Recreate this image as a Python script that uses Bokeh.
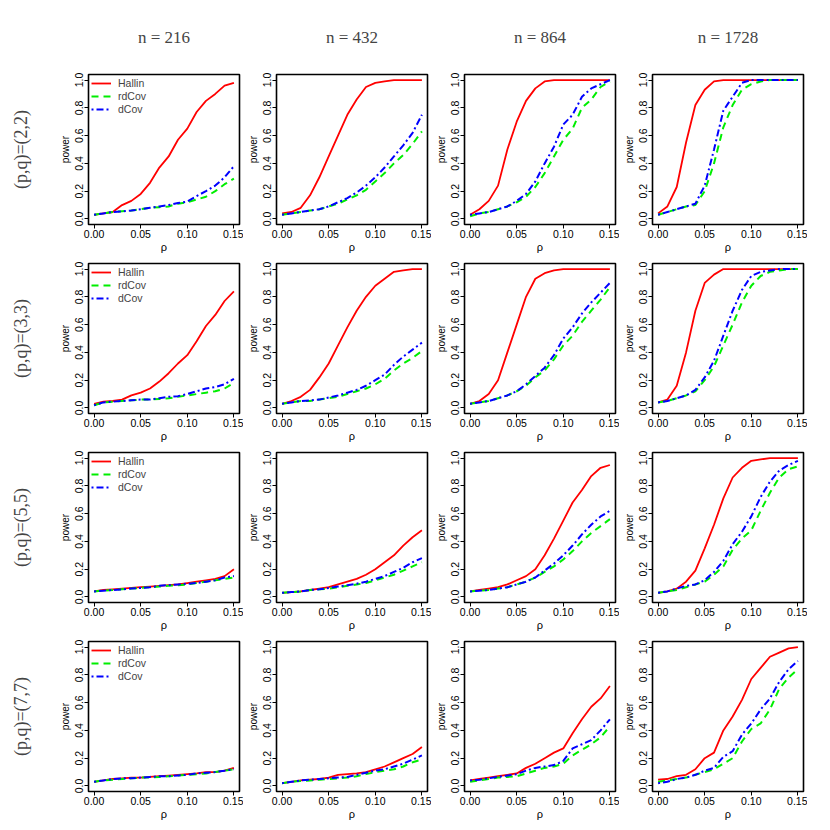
from bokeh.plotting import figure
from bokeh.layouts import column, row
from bokeh.models import (FixedTicker, Title, Legend, LegendItem, Range1d,
                          PrintfTickFormatter)
from bokeh.embed import file_html
from bokeh.resources import INLINE

# ---------------- data ----------------
rho = [0.00, 0.01, 0.02, 0.03, 0.04, 0.05, 0.06, 0.07, 0.08, 0.09, 0.10,
       0.11, 0.12, 0.13, 0.14, 0.15]

sample_sizes = ["216", "432", "864", "1728"]
dims = ["(2,2)", "(3,3)", "(5,5)", "(7,7)"]

x_ticks = [0.00, 0.05, 0.10, 0.15]
y_ticks = [0.0, 0.2, 0.4, 0.6, 0.8, 1.0]

# (p,q)=(2,2)
hallin_22_216 = [0.03, 0.04, 0.05, 0.10, 0.13, 0.18, 0.26, 0.37, 0.45, 0.57, 0.65, 0.77, 0.85, 0.90, 0.96, 0.98]
rdcov_22_216 = [0.03, 0.04, 0.05, 0.055, 0.06, 0.07, 0.08, 0.085, 0.09, 0.11, 0.12, 0.14, 0.16, 0.20, 0.25, 0.29]
dcov_22_216 = [0.03, 0.04, 0.05, 0.055, 0.06, 0.07, 0.08, 0.09, 0.10, 0.115, 0.125, 0.165, 0.20, 0.24, 0.30, 0.38]

hallin_22_432 = [0.04, 0.05, 0.08, 0.17, 0.30, 0.45, 0.60, 0.75, 0.86, 0.95, 0.98, 0.99, 1.0, 1.0, 1.0, 1.0]
rdcov_22_432 = [0.03, 0.04, 0.05, 0.06, 0.07, 0.09, 0.11, 0.14, 0.17, 0.21, 0.27, 0.33, 0.40, 0.46, 0.54, 0.63]
dcov_22_432 = [0.03, 0.04, 0.05, 0.06, 0.07, 0.09, 0.12, 0.15, 0.19, 0.24, 0.30, 0.37, 0.45, 0.53, 0.62, 0.75]

hallin_22_864 = [0.03, 0.07, 0.13, 0.24, 0.50, 0.70, 0.85, 0.94, 0.99, 1.0, 1.0, 1.0, 1.0, 1.0, 1.0, 1.0]
rdcov_22_864 = [0.02, 0.04, 0.05, 0.07, 0.09, 0.12, 0.16, 0.23, 0.33, 0.45, 0.57, 0.65, 0.80, 0.86, 0.95, 0.99]
dcov_22_864 = [0.03, 0.04, 0.05, 0.07, 0.09, 0.13, 0.18, 0.27, 0.40, 0.52, 0.68, 0.75, 0.88, 0.94, 0.97, 1.0]

hallin_22_1728 = [0.04, 0.09, 0.23, 0.55, 0.82, 0.93, 0.99, 1.0, 1.0, 1.0, 1.0, 1.0, 1.0, 1.0, 1.0, 1.0]
rdcov_22_1728 = [0.03, 0.05, 0.07, 0.09, 0.10, 0.20, 0.40, 0.66, 0.82, 0.93, 0.97, 0.99, 1.0, 1.0, 1.0, 1.0]
dcov_22_1728 = [0.03, 0.05, 0.07, 0.09, 0.11, 0.24, 0.50, 0.78, 0.88, 0.98, 1.0, 1.0, 1.0, 1.0, 1.0, 1.0]

# (p,q)=(3,3)
hallin_33_216 = [0.03, 0.045, 0.05, 0.06, 0.09, 0.11, 0.14, 0.19, 0.25, 0.32, 0.38, 0.48, 0.59, 0.67, 0.77, 0.84]
rdcov_33_216 = [0.02, 0.04, 0.045, 0.05, 0.055, 0.06, 0.06, 0.065, 0.07, 0.08, 0.09, 0.10, 0.11, 0.12, 0.14, 0.18]
dcov_33_216 = [0.02, 0.04, 0.045, 0.05, 0.055, 0.06, 0.06, 0.07, 0.08, 0.085, 0.10, 0.12, 0.14, 0.15, 0.17, 0.21]

hallin_33_432 = [0.03, 0.05, 0.08, 0.13, 0.22, 0.32, 0.45, 0.58, 0.70, 0.80, 0.88, 0.93, 0.98, 0.99, 1.0, 1.0]
rdcov_33_432 = [0.03, 0.04, 0.05, 0.05, 0.06, 0.07, 0.08, 0.10, 0.12, 0.14, 0.17, 0.21, 0.27, 0.32, 0.36, 0.41]
dcov_33_432 = [0.03, 0.04, 0.05, 0.055, 0.06, 0.075, 0.09, 0.11, 0.13, 0.16, 0.20, 0.24, 0.31, 0.37, 0.42, 0.47]

hallin_33_864 = [0.03, 0.05, 0.10, 0.20, 0.40, 0.60, 0.80, 0.93, 0.97, 0.99, 1.0, 1.0, 1.0, 1.0, 1.0, 1.0]
rdcov_33_864 = [0.03, 0.04, 0.05, 0.07, 0.09, 0.12, 0.16, 0.22, 0.27, 0.35, 0.45, 0.52, 0.62, 0.70, 0.78, 0.87]
dcov_33_864 = [0.03, 0.04, 0.05, 0.07, 0.09, 0.12, 0.17, 0.23, 0.29, 0.38, 0.50, 0.58, 0.68, 0.76, 0.83, 0.90]

hallin_33_1728 = [0.04, 0.06, 0.16, 0.40, 0.70, 0.90, 0.96, 1.0, 1.0, 1.0, 1.0, 1.0, 1.0, 1.0, 1.0, 1.0]
rdcov_33_1728 = [0.04, 0.05, 0.07, 0.09, 0.12, 0.20, 0.30, 0.45, 0.60, 0.76, 0.88, 0.95, 0.98, 0.99, 1.0, 1.0]
dcov_33_1728 = [0.04, 0.05, 0.07, 0.09, 0.13, 0.22, 0.34, 0.52, 0.70, 0.85, 0.95, 0.98, 0.99, 1.0, 1.0, 1.0]

# (p,q)=(5,5)
hallin_55_216 = [0.04, 0.05, 0.055, 0.06, 0.065, 0.07, 0.075, 0.08, 0.085, 0.09, 0.10, 0.11, 0.12, 0.13, 0.15, 0.20]
rdcov_55_216 = [0.04, 0.045, 0.05, 0.055, 0.06, 0.065, 0.07, 0.075, 0.08, 0.085, 0.09, 0.10, 0.11, 0.12, 0.13, 0.14]
dcov_55_216 = [0.04, 0.045, 0.05, 0.055, 0.06, 0.065, 0.07, 0.08, 0.085, 0.09, 0.095, 0.10, 0.11, 0.12, 0.14, 0.15]

hallin_55_432 = [0.03, 0.035, 0.04, 0.05, 0.06, 0.07, 0.09, 0.11, 0.13, 0.16, 0.20, 0.25, 0.30, 0.37, 0.43, 0.48]
rdcov_55_432 = [0.03, 0.035, 0.04, 0.05, 0.055, 0.06, 0.07, 0.08, 0.09, 0.10, 0.12, 0.14, 0.16, 0.19, 0.22, 0.25]
dcov_55_432 = [0.03, 0.035, 0.04, 0.05, 0.055, 0.065, 0.075, 0.085, 0.095, 0.11, 0.13, 0.15, 0.18, 0.21, 0.25, 0.28]

hallin_55_864 = [0.04, 0.05, 0.06, 0.07, 0.09, 0.12, 0.15, 0.20, 0.30, 0.42, 0.55, 0.68, 0.77, 0.87, 0.93, 0.95]
rdcov_55_864 = [0.04, 0.045, 0.05, 0.06, 0.07, 0.09, 0.11, 0.14, 0.18, 0.22, 0.27, 0.33, 0.40, 0.46, 0.51, 0.56]
dcov_55_864 = [0.04, 0.045, 0.05, 0.06, 0.07, 0.09, 0.11, 0.14, 0.19, 0.24, 0.30, 0.37, 0.45, 0.52, 0.58, 0.62]

hallin_55_1728 = [0.03, 0.04, 0.06, 0.11, 0.19, 0.35, 0.52, 0.71, 0.86, 0.93, 0.98, 0.99, 1.0, 1.0, 1.0, 1.0]
rdcov_55_1728 = [0.03, 0.04, 0.05, 0.07, 0.09, 0.11, 0.16, 0.22, 0.34, 0.42, 0.48, 0.62, 0.75, 0.86, 0.92, 0.94]
dcov_55_1728 = [0.03, 0.04, 0.06, 0.08, 0.09, 0.12, 0.18, 0.26, 0.38, 0.47, 0.58, 0.72, 0.83, 0.91, 0.95, 0.98]

# (p,q)=(7,7)
hallin_77_216 = [0.03, 0.04, 0.05, 0.055, 0.06, 0.06, 0.065, 0.07, 0.075, 0.08, 0.085, 0.09, 0.10, 0.10, 0.11, 0.13]
rdcov_77_216 = [0.03, 0.04, 0.045, 0.05, 0.055, 0.06, 0.06, 0.065, 0.07, 0.075, 0.08, 0.085, 0.09, 0.10, 0.11, 0.12]
dcov_77_216 = [0.03, 0.04, 0.05, 0.055, 0.055, 0.06, 0.065, 0.07, 0.07, 0.075, 0.08, 0.09, 0.095, 0.10, 0.11, 0.12]

hallin_77_432 = [0.02, 0.03, 0.04, 0.045, 0.05, 0.06, 0.08, 0.085, 0.09, 0.10, 0.12, 0.14, 0.17, 0.20, 0.23, 0.28]
rdcov_77_432 = [0.02, 0.03, 0.035, 0.04, 0.045, 0.05, 0.055, 0.06, 0.07, 0.085, 0.10, 0.11, 0.12, 0.14, 0.17, 0.19]
dcov_77_432 = [0.02, 0.03, 0.04, 0.045, 0.05, 0.055, 0.06, 0.065, 0.08, 0.095, 0.11, 0.12, 0.14, 0.16, 0.19, 0.22]

hallin_77_864 = [0.04, 0.05, 0.06, 0.07, 0.08, 0.09, 0.13, 0.16, 0.20, 0.24, 0.27, 0.38, 0.48, 0.57, 0.63, 0.72]
rdcov_77_864 = [0.03, 0.04, 0.05, 0.06, 0.065, 0.07, 0.09, 0.11, 0.13, 0.14, 0.16, 0.22, 0.26, 0.30, 0.35, 0.43]
dcov_77_864 = [0.04, 0.045, 0.055, 0.065, 0.075, 0.085, 0.11, 0.13, 0.14, 0.15, 0.18, 0.27, 0.30, 0.33, 0.40, 0.48]

hallin_77_1728 = [0.045, 0.05, 0.07, 0.08, 0.12, 0.20, 0.24, 0.40, 0.50, 0.62, 0.77, 0.85, 0.93, 0.96, 0.99, 1.0]
rdcov_77_1728 = [0.03, 0.04, 0.05, 0.06, 0.08, 0.10, 0.12, 0.16, 0.20, 0.32, 0.41, 0.45, 0.55, 0.70, 0.78, 0.84]
dcov_77_1728 = [0.02, 0.03, 0.05, 0.06, 0.08, 0.11, 0.13, 0.21, 0.25, 0.37, 0.45, 0.55, 0.63, 0.75, 0.84, 0.90]

panels = [
    [(hallin_22_216, rdcov_22_216, dcov_22_216), (hallin_22_432, rdcov_22_432, dcov_22_432),
     (hallin_22_864, rdcov_22_864, dcov_22_864), (hallin_22_1728, rdcov_22_1728, dcov_22_1728)],
    [(hallin_33_216, rdcov_33_216, dcov_33_216), (hallin_33_432, rdcov_33_432, dcov_33_432),
     (hallin_33_864, rdcov_33_864, dcov_33_864), (hallin_33_1728, rdcov_33_1728, dcov_33_1728)],
    [(hallin_55_216, rdcov_55_216, dcov_55_216), (hallin_55_432, rdcov_55_432, dcov_55_432),
     (hallin_55_864, rdcov_55_864, dcov_55_864), (hallin_55_1728, rdcov_55_1728, dcov_55_1728)],
    [(hallin_77_216, rdcov_77_216, dcov_77_216), (hallin_77_432, rdcov_77_432, dcov_77_432),
     (hallin_77_864, rdcov_77_864, dcov_77_864), (hallin_77_1728, rdcov_77_1728, dcov_77_1728)],
]

SANS = "Liberation Sans"
SERIF = "Liberation Serif"

TOP_FIRST = 74
TOP_OTHER = 8
BOTTOM = 30
FRAME_W = 151
FRAME_H = 150
LEFT = 33
RIGHT = 4
LABEL_W = 55


def make_label(r):
    tb = TOP_FIRST if r == 0 else TOP_OTHER
    p = figure(frame_width=1, frame_height=FRAME_H,
               min_border_left=40, min_border_right=LABEL_W - 41,
               min_border_top=tb, min_border_bottom=BOTTOM,
               x_axis_location=None, y_axis_location=None,
               output_backend="svg", toolbar_location=None)
    p.grid.visible = False
    p.outline_line_color = None
    p.add_layout(Title(text="(p,q)=" + dims[r], align="center",
                       vertical_align="middle",
                       text_font=SERIF, text_font_size="18px",
                       text_font_style="normal", standoff=18), "left")
    return p


def make_panel(r, c, hal, rdc, dco):
    tb = TOP_FIRST if r == 0 else TOP_OTHER
    p = figure(frame_width=FRAME_W, frame_height=FRAME_H,
               min_border_left=LEFT, min_border_right=RIGHT,
               min_border_top=tb, min_border_bottom=BOTTOM,
               x_range=Range1d(-0.006, 0.156), y_range=Range1d(-0.04, 1.04),
               output_backend="svg", toolbar_location=None)
    p.grid.visible = False
    p.outline_line_color = "black"
    p.outline_line_width = 1.6
    p.outline_line_alpha = 1.0
    p.background_fill_color = "white"
    p.border_fill_color = "white"

    for ax in (p.xaxis[0], p.yaxis[0]):
        ax.axis_line_color = None
        ax.major_tick_in = 0
        ax.major_tick_out = 4
        ax.minor_tick_line_color = None
        ax.major_tick_line_color = "black"
        ax.major_label_text_font = SANS
        ax.major_label_text_font_size = "10.5px"
        ax.major_label_text_color = "black"
        ax.axis_label_text_font = SANS
        ax.axis_label_text_font_style = "normal"
        ax.axis_label_text_color = "black"

    p.xaxis.ticker = FixedTicker(ticks=x_ticks)
    p.xaxis.formatter = PrintfTickFormatter(format="%.2f")
    p.xaxis.major_label_standoff = 1
    p.xaxis.axis_label = "ρ"
    p.xaxis.axis_label_text_font_size = "11px"
    p.xaxis.axis_label_standoff = 0

    p.yaxis.ticker = FixedTicker(ticks=y_ticks)
    p.yaxis.formatter = PrintfTickFormatter(format="%.1f")
    p.yaxis.major_label_orientation = "vertical"
    p.yaxis.major_label_standoff = 1
    p.yaxis.axis_label = "power"
    p.yaxis.axis_label_text_font_size = "10px"
    p.yaxis.axis_label_standoff = 2

    l_h = p.line(rho, hal, line_color="#FF0000", line_width=1.8)
    l_r = p.line(rho, rdc, line_color="#00EE00", line_width=2, line_dash="7 5")
    l_d = p.line(rho, dco, line_color="#0000FF", line_width=2, line_dash="2 3 7 3")

    if c == 0:
        leg = Legend(items=[LegendItem(label="Hallin", renderers=[l_h]),
                            LegendItem(label="rdCov", renderers=[l_r]),
                            LegendItem(label="dCov", renderers=[l_d])],
                     location="top_left", border_line_color=None,
                     background_fill_alpha=0, label_text_font=SANS,
                     label_text_font_size="10.5px", glyph_width=20,
                     glyph_height=10, label_height=10, label_standoff=7,
                     spacing=1, padding=3, margin=3)
        p.add_layout(leg, "center")
    if r == 0:
        p.add_layout(Title(text="n = " + sample_sizes[c], align="center",
                           vertical_align="middle",
                           text_font=SERIF, text_font_size="17px",
                           text_font_style="normal", standoff=53), "above")
    return p


rows = []
for r in range(4):
    figs = [make_label(r)] + [make_panel(r, c, *panels[r][c]) for c in range(4)]
    rows.append(row(*figs))
layout = column(*rows)

open("out.html", "w").write(file_html(layout, INLINE))
